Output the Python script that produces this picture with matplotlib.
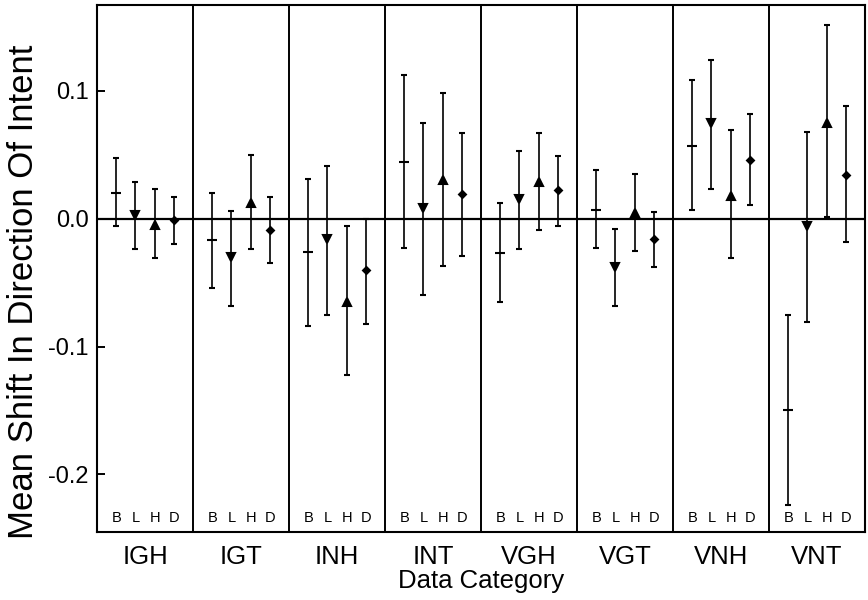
import numpy as np
import matplotlib
matplotlib.use("Agg")
import matplotlib.pyplot as plt
import matplotlib.transforms as mtransforms

plt.rcParams['font.family'] = ['Liberation Sans', 'DejaVu Sans']
plt.rcParams['axes.unicode_minus'] = False

categories = ['IGH', 'IGT', 'INH', 'INT', 'VGH', 'VGT', 'VNH', 'VNT']
conditions = ['B', 'L', 'H', 'D']

# means and interval ends
b_mean = [0.020, -0.017, -0.026, 0.044, -0.027, 0.007, 0.057, -0.150]
b_low = [-0.006, -0.054, -0.084, -0.023, -0.065, -0.023, 0.007, -0.224]
b_high = [0.047, 0.020, 0.031, 0.112, 0.012, 0.038, 0.108, -0.075]

l_mean = [0.003, -0.030, -0.016, 0.008, 0.015, -0.038, 0.075, -0.006]
l_low = [-0.024, -0.068, -0.075, -0.060, -0.024, -0.068, 0.023, -0.081]
l_high = [0.029, 0.006, 0.041, 0.075, 0.053, -0.008, 0.124, 0.068]

h_mean = [-0.005, 0.012, -0.065, 0.030, 0.029, 0.004, 0.018, 0.075]
h_low = [-0.031, -0.024, -0.122, -0.037, -0.009, -0.025, -0.031, 0.001]
h_high = [0.023, 0.050, -0.006, 0.098, 0.067, 0.035, 0.069, 0.151]

d_mean = [-0.001, -0.009, -0.040, 0.019, 0.022, -0.016, 0.046, 0.034]
d_low = [-0.020, -0.035, -0.082, -0.029, -0.006, -0.038, 0.011, -0.018]
d_high = [0.017, 0.017, 0.000, 0.067, 0.049, 0.005, 0.082, 0.088]

series = [
    (b_mean, b_low, b_high, '_', 6.5),
    (l_mean, l_low, l_high, 'v', 6.0),
    (h_mean, h_low, h_high, '^', 6.0),
    (d_mean, d_low, d_high, 'D', 3.5),
]

fig = plt.figure(figsize=(8.68, 6.0), dpi=100)
ax = fig.add_axes([0.1118, 0.1133, 0.8847, 0.8784])

base = np.arange(len(categories))
for j, (m, lo, hi, mk, ms) in enumerate(series):
    m = np.array(m)
    err = np.vstack([m - np.array(lo), np.array(hi) - m])
    x = base + 0.2 + 0.2 * j
    ax.errorbar(x, m, yerr=err, fmt=mk, color='black', ms=ms, mew=1.5,
                elinewidth=1.2, capsize=2.2, capthick=1.3, zorder=3)

# panel dividers and zero line
for i in range(1, len(categories)):
    ax.axvline(i, color='black', lw=1.4, zorder=2)
ax.axhline(0, color='black', lw=1.6, zorder=2)

# B L H D letters at the foot of every panel
trans = mtransforms.blended_transform_factory(ax.transData, ax.transAxes)
for i in range(len(categories)):
    for j, c in enumerate(conditions):
        ax.text(i + 0.2 + 0.2 * j, 0.027, c, transform=trans, fontsize=10.5,
                ha='center', va='center')

ax.set_xlim(0, len(categories))
ax.set_ylim(-0.245, 0.167)

ax.set_xticks(base + 0.5)
ax.set_xticklabels(categories, fontsize=18.5)
ax.tick_params(axis='x', length=0, pad=9)

ax.set_yticks([-0.2, -0.1, 0.0, 0.1])
ax.set_yticklabels(['-0.2', '-0.1', '0.0', '0.1'], fontsize=17)
ax.tick_params(axis='y', direction='in', length=6, width=1.4, pad=6)

for s in ax.spines.values():
    s.set_linewidth(1.5)

ax.set_xlabel('Data Category', fontsize=18.5, labelpad=0)
ax.set_ylabel('Mean Shift In Direction Of Intent', fontsize=25)
ax.yaxis.set_label_coords(-0.074, 0.455)

fig.savefig('out.png', dpi=100)
